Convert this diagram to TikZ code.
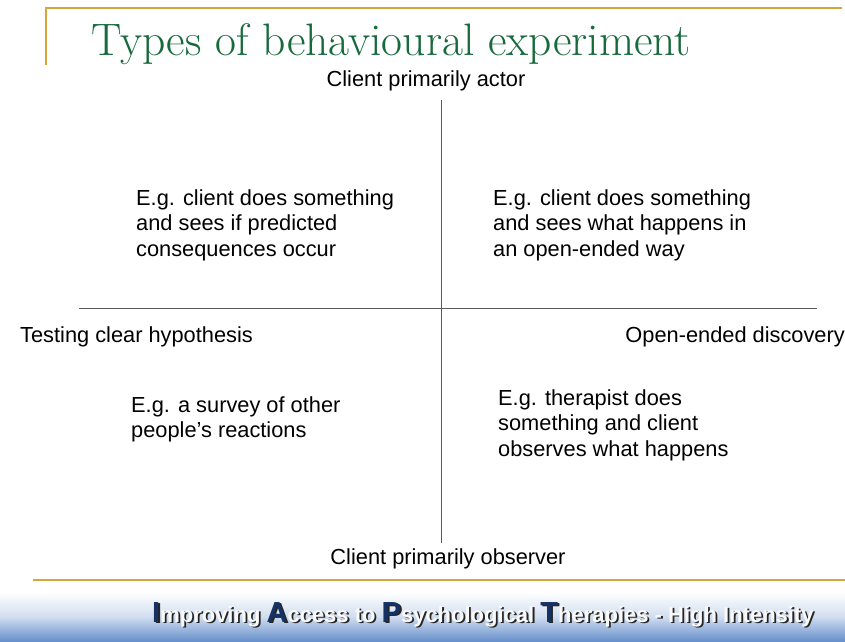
\documentclass[tikz,border=0pt]{standalone}
\usepackage{fontspec}
\setsansfont{Liberation Sans}
\newfontfamily\titlefont{Latin Modern Roman}
\usetikzlibrary{shadings}
\definecolor{gold}{RGB}{214,166,58}
\definecolor{titlegreen}{RGB}{22,106,60}
\definecolor{navy}{RGB}{22,50,100}
\definecolor{footblue}{RGB}{104,145,204}
\definecolor{axisgray}{RGB}{90,90,90}
\newcommand{\footcap}[1]{{\fontsize{29}{29}\selectfont #1}}
\newcommand{\foottext}[1]{\sffamily\bfseries\fontsize{22}{22}\selectfont
  {\color{#1}\footcap{I}}mproving {\color{#1}\footcap{A}}ccess to {\color{#1}\footcap{P}}sychological {\color{#1}\footcap{T}}herapies - High Intensity}
\begin{document}
\begin{tikzpicture}[x=1pt,y=-1pt,
  body/.style={font=\sffamily\fontsize{21.8}{25.7}\selectfont, inner sep=0pt, align=left, text=black},
  axisline/.style={draw=axisgray, line width=1pt},
  goldline/.style={draw=gold, line width=1.6pt}]
\useasboundingbox (0,0) rectangle (845,641);
\fill[white] (0,0) rectangle (845,641);
% header frame
\coordinate (hl) at (46,65);
\coordinate (hc) at (46,8);
\coordinate (hr) at (842,8);
\draw[goldline] (hl) -- (hc) -- (hr);
\node[anchor=base west, inner sep=0pt, text=titlegreen, font=\titlefont\fontsize{45.5}{46}\selectfont] (title) at (91,55) {Types of behavioural experiment};
% axes
\coordinate (vtop) at (441,100);
\coordinate (vbot) at (441,543);
\coordinate (hleft) at (79,308);
\coordinate (hright) at (817,308);
\draw[axisline] (vtop) -- (vbot);
\draw[axisline] (hleft) -- (hright);
% axis labels
\node[body, anchor=base] (actor) at (426,86) {Client primarily actor};
\node[body, anchor=base] (observer) at (448,564) {Client primarily observer};
\node[body, anchor=base west] (testing) at (20,342) {Testing clear hypothesis};
\node[body, anchor=base east] (open) at (845,342) {Open-ended discovery};
% quadrants
\node[body, anchor=north west] (tl) at (136,189) {E.g. client does something\\and sees if predicted\\consequences occur};
\node[body, anchor=north west] (tr) at (493,189) {E.g. client does something\\and sees what happens in\\an open-ended way};
\node[body, anchor=north west] (bl) at (131,396) {E.g. a survey of other\\people’s reactions};
\node[body, anchor=north west] (br) at (498,389) {E.g. therapist does\\something and client\\observes what happens};
% footer
\coordinate (fl) at (33,580);
\coordinate (fr) at (845,580);
\draw[goldline] (fl) -- (fr);
\shade[top color=white, bottom color=footblue, middle color=white!70!footblue] (0,592) rectangle (845,641);
\node[anchor=base west, inner sep=0pt, text=white!95!gray] (foot) at (152,622)
  {\rlap{\hspace{1.8pt}\raisebox{-1.8pt}{\color{black!85}\foottext{black!85}}}\foottext{navy}};
\end{tikzpicture}
\end{document}
